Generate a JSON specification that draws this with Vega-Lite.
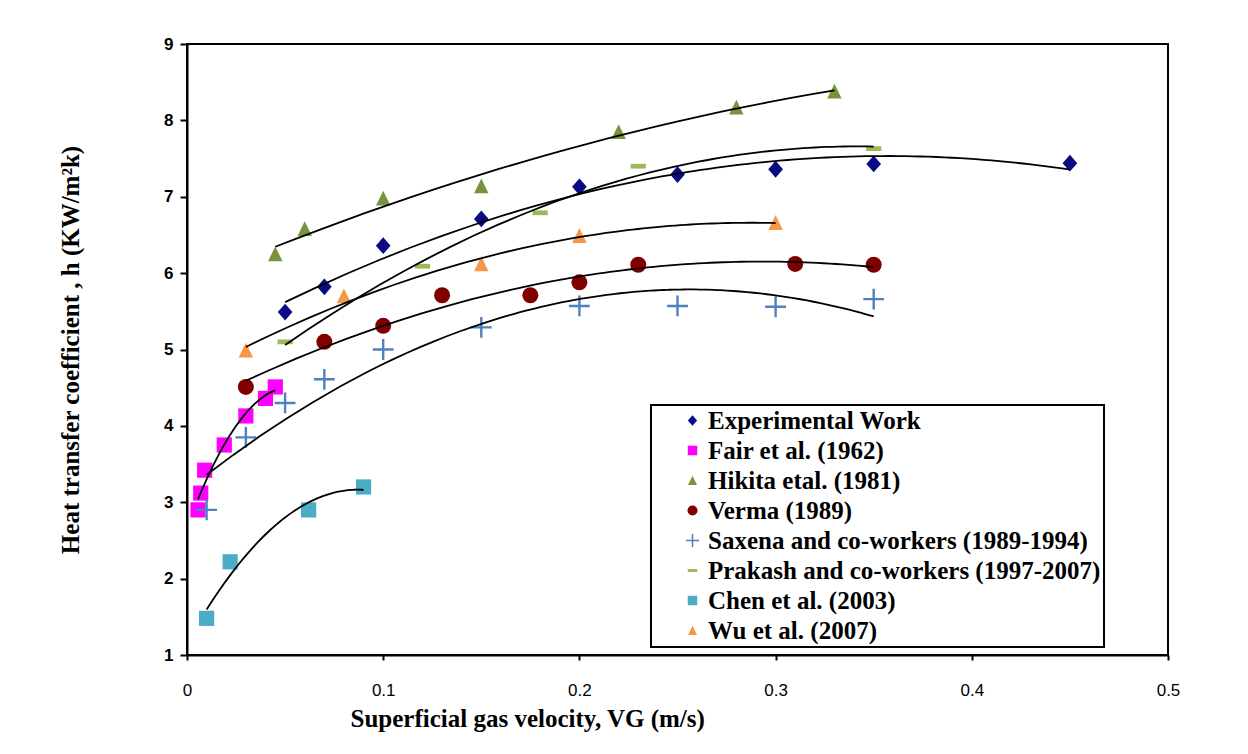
{
  "$schema": "https://vega.github.io/schema/vega-lite/v6.json",
  "width": 981,
  "height": 611,
  "autosize": {"type": "none"},
  "padding": {"left": 187, "top": 44, "right": 80, "bottom": 99},
  "background": "white",
  "data": {
    "values": [
      {"series": "Experimental Work", "v": 0.05, "h": 5.49},
      {"series": "Experimental Work", "v": 0.07, "h": 5.82},
      {"series": "Experimental Work", "v": 0.1, "h": 6.36},
      {"series": "Experimental Work", "v": 0.15, "h": 6.71},
      {"series": "Experimental Work", "v": 0.2, "h": 7.13},
      {"series": "Experimental Work", "v": 0.25, "h": 7.29},
      {"series": "Experimental Work", "v": 0.3, "h": 7.36},
      {"series": "Experimental Work", "v": 0.35, "h": 7.43},
      {"series": "Experimental Work", "v": 0.45, "h": 7.44},
      {"series": "Fair et al. (1962)", "v": 0.0056, "h": 2.9},
      {"series": "Fair et al. (1962)", "v": 0.007, "h": 3.12},
      {"series": "Fair et al. (1962)", "v": 0.009, "h": 3.42},
      {"series": "Fair et al. (1962)", "v": 0.019, "h": 3.75},
      {"series": "Fair et al. (1962)", "v": 0.03, "h": 4.13},
      {"series": "Fair et al. (1962)", "v": 0.04, "h": 4.36},
      {"series": "Fair et al. (1962)", "v": 0.045, "h": 4.51},
      {"series": "Hikita etal. (1981)", "v": 0.045, "h": 6.25},
      {"series": "Hikita etal. (1981)", "v": 0.06, "h": 6.58},
      {"series": "Hikita etal. (1981)", "v": 0.1, "h": 6.98},
      {"series": "Hikita etal. (1981)", "v": 0.15, "h": 7.14},
      {"series": "Hikita etal. (1981)", "v": 0.22, "h": 7.85},
      {"series": "Hikita etal. (1981)", "v": 0.28, "h": 8.17},
      {"series": "Hikita etal. (1981)", "v": 0.33, "h": 8.38},
      {"series": "Verma (1989)", "v": 0.03, "h": 4.51},
      {"series": "Verma (1989)", "v": 0.07, "h": 5.1},
      {"series": "Verma (1989)", "v": 0.1, "h": 5.31},
      {"series": "Verma (1989)", "v": 0.13, "h": 5.71},
      {"series": "Verma (1989)", "v": 0.175, "h": 5.71},
      {"series": "Verma (1989)", "v": 0.2, "h": 5.88},
      {"series": "Verma (1989)", "v": 0.23, "h": 6.11},
      {"series": "Verma (1989)", "v": 0.31, "h": 6.12},
      {"series": "Verma (1989)", "v": 0.35, "h": 6.11},
      {"series": "Saxena and co-workers (1989-1994)", "v": 0.01, "h": 2.9},
      {"series": "Saxena and co-workers (1989-1994)", "v": 0.03, "h": 3.85},
      {"series": "Saxena and co-workers (1989-1994)", "v": 0.05, "h": 4.3},
      {"series": "Saxena and co-workers (1989-1994)", "v": 0.07, "h": 4.61},
      {"series": "Saxena and co-workers (1989-1994)", "v": 0.1, "h": 5.0},
      {"series": "Saxena and co-workers (1989-1994)", "v": 0.15, "h": 5.29},
      {"series": "Saxena and co-workers (1989-1994)", "v": 0.2, "h": 5.57},
      {"series": "Saxena and co-workers (1989-1994)", "v": 0.25, "h": 5.57},
      {"series": "Saxena and co-workers (1989-1994)", "v": 0.3, "h": 5.56},
      {"series": "Saxena and co-workers (1989-1994)", "v": 0.35, "h": 5.66},
      {"series": "Prakash and co-workers (1997-2007)", "v": 0.05, "h": 5.1},
      {"series": "Prakash and co-workers (1997-2007)", "v": 0.12, "h": 6.09},
      {"series": "Prakash and co-workers (1997-2007)", "v": 0.18, "h": 6.79},
      {"series": "Prakash and co-workers (1997-2007)", "v": 0.23, "h": 7.4},
      {"series": "Prakash and co-workers (1997-2007)", "v": 0.35, "h": 7.63},
      {"series": "Chen et al. (2003)", "v": 0.01, "h": 1.48},
      {"series": "Chen et al. (2003)", "v": 0.022, "h": 2.22},
      {"series": "Chen et al. (2003)", "v": 0.062, "h": 2.9},
      {"series": "Chen et al. (2003)", "v": 0.09, "h": 3.2},
      {"series": "Wu et al. (2007)", "v": 0.03, "h": 4.99},
      {"series": "Wu et al. (2007)", "v": 0.08, "h": 5.7},
      {"series": "Wu et al. (2007)", "v": 0.15, "h": 6.12},
      {"series": "Wu et al. (2007)", "v": 0.2, "h": 6.49},
      {"series": "Wu et al. (2007)", "v": 0.3, "h": 6.66}
    ]
  },
  "layer": [
    {
      "mark": {"type": "point", "filled": true, "opacity": 1, "size": 256, "strokeWidth": 0},
      "encoding": {
        "x": {
          "field": "v", "type": "quantitative",
          "scale": {"domain": [0, 0.5], "nice": false, "zero": false},
          "axis": {"values": [0, 0.1, 0.2, 0.3, 0.4, 0.5], "format": ".1~f"},
          "title": "Superficial gas velocity, VG (m/s)"
        },
        "y": {
          "field": "h", "type": "quantitative",
          "scale": {"domain": [1, 9], "nice": false, "zero": false},
          "axis": {"values": [1, 2, 3, 4, 5, 6, 7, 8, 9], "format": "d"},
          "title": "Heat transfer coefficient , h (KW/m²k)"
        },
        "color": {
          "field": "series", "type": "nominal", "title": null,
          "scale": {
            "domain": ["Experimental Work", "Fair et al. (1962)", "Hikita etal. (1981)", "Verma (1989)", "Saxena and co-workers (1989-1994)", "Prakash and co-workers (1997-2007)", "Chen et al. (2003)", "Wu et al. (2007)"],
            "range": ["#0a0a84", "#ff00ff", "#77933c", "#800000", "#4f81bd", "#9bbb59", "#4bacc6", "#f79646"]
          }
        },
        "shape": {
          "field": "series", "type": "nominal", "title": null,
          "scale": {
            "domain": ["Experimental Work", "Fair et al. (1962)", "Hikita etal. (1981)", "Verma (1989)", "Saxena and co-workers (1989-1994)", "Prakash and co-workers (1997-2007)", "Chen et al. (2003)", "Wu et al. (2007)"],
            "range": [
              "M0,-1.05L0.92,0L0,1.05L-0.92,0Z",
              "M-0.95,-0.95H0.95V0.95H-0.95Z",
              "M0,-0.95L0.9,0.9H-0.9Z",
              "circle",
              "M-1.3,-0.15H-0.15V-1.3H0.15V-0.15H1.3V0.15H0.15V1.3H-0.15V0.15H-1.3Z",
              "M-0.95,-0.3H0.95V0.3H-0.95Z",
              "M-0.95,-0.95H0.95V0.95H-0.95Z",
              "M0,-0.95L0.9,0.9H-0.9Z"
            ]
          }
        }
      }
    },
    {
      "transform": [
        {"regression": "h", "on": "v", "groupby": ["series"], "method": "poly", "order": 2}
      ],
      "mark": {"type": "line", "color": "black", "strokeWidth": 1.8},
      "encoding": {
        "x": {"field": "v", "type": "quantitative"},
        "y": {"field": "h", "type": "quantitative"},
        "detail": {"field": "series", "type": "nominal"}
      }
    }
  ],
  "config": {
    "view": {"stroke": "black", "strokeWidth": 2},
    "axis": {
      "grid": false,
      "domainColor": "black",
      "domainWidth": 2,
      "tickColor": "black",
      "tickWidth": 2,
      "labelColor": "black",
      "titleColor": "black",
      "titleFont": "Liberation Serif",
      "titleFontSize": 25,
      "titleFontWeight": "bold"
    },
    "axisX": {
      "tickSize": 5,
      "labelPadding": 22,
      "labelFont": "Liberation Sans",
      "labelFontSize": 17,
      "labelFontWeight": "normal",
      "labelFlush": false,
      "titlePadding": 8,
      "titleX": 163,
      "titleAlign": "left",
      "titleAnchor": null
    },
    "axisY": {
      "tickSize": 7,
      "labelPadding": 7,
      "labelFont": "Liberation Sans",
      "labelFontSize": 17,
      "labelFontWeight": "bold",
      "labelFlush": false,
      "titlePadding": 80
    },
    "legend": {
      "orient": "none",
      "legendX": 464,
      "legendY": 361,
      "fillColor": "white",
      "strokeColor": "black",
      "strokeWidth": 2,
      "padding": 3,
      "symbolOffset": 26,
      "symbolSize": 100,
      "symbolStrokeWidth": 0,
      "labelFont": "Liberation Serif",
      "labelFontSize": 25,
      "labelFontWeight": "bold",
      "labelColor": "black",
      "labelLimit": 600,
      "labelOffset": 3,
      "rowPadding": 4
    }
  }
}
